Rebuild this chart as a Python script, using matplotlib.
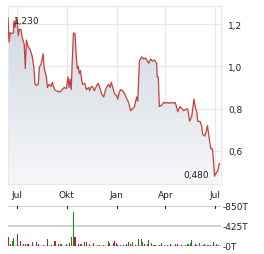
import matplotlib
matplotlib.use("Agg")
import matplotlib.pyplot as plt
import matplotlib.dates as mdates
import numpy as np
import pandas as pd
from matplotlib.colors import LinearSegmentedColormap

price_dates = ["2024-06-14","2024-06-16","2024-06-18","2024-06-22","2024-06-24","2024-06-25","2024-06-27","2024-06-29",
 "2024-07-01","2024-07-03","2024-07-05","2024-07-08","2024-07-10","2024-07-14","2024-07-16","2024-07-18","2024-07-21",
 "2024-07-25","2024-07-29","2024-08-01","2024-08-03","2024-08-05","2024-08-09","2024-08-11","2024-08-14","2024-08-18",
 "2024-08-20","2024-08-24","2024-08-26","2024-08-29","2024-09-02","2024-09-04","2024-09-08","2024-09-11","2024-09-15",
 "2024-09-19","2024-09-22","2024-09-26","2024-09-30","2024-10-03","2024-10-05","2024-10-07","2024-10-09","2024-10-11",
 "2024-10-13","2024-10-16","2024-10-18","2024-10-20","2024-10-22","2024-10-24","2024-10-26","2024-10-28","2024-10-30",
 "2024-11-03","2024-11-06","2024-11-10","2024-11-12","2024-11-14","2024-11-17","2024-11-21","2024-11-25","2024-11-28",
 "2024-12-02","2024-12-04","2024-12-08","2024-12-11","2024-12-13","2024-12-17","2024-12-20","2024-12-22","2024-12-26",
 "2024-12-28","2025-01-01","2025-01-03","2025-01-05","2025-01-08","2025-01-12","2025-01-16","2025-01-20","2025-01-23",
 "2025-01-27","2025-01-31","2025-02-03","2025-02-07","2025-02-09","2025-02-12","2025-02-16","2025-02-20","2025-02-23",
 "2025-02-27","2025-03-01","2025-03-05","2025-03-08","2025-03-12","2025-03-16","2025-03-17","2025-03-19","2025-03-21",
 "2025-03-25","2025-03-29","2025-04-01","2025-04-04","2025-04-08","2025-04-12","2025-04-15","2025-04-19","2025-04-21",
 "2025-04-24","2025-04-28","2025-05-02","2025-05-05","2025-05-11","2025-05-13","2025-05-16","2025-05-20","2025-05-24",
 "2025-05-27","2025-05-29","2025-05-31","2025-06-04","2025-06-07","2025-06-09","2025-06-13","2025-06-16","2025-06-18",
 "2025-06-20","2025-06-24","2025-06-27","2025-06-29","2025-07-01","2025-07-05","2025-07-07","2025-07-10"]
price_values = [1.23,1.115,1.16,1.155,1.16,1.215,1.185,1.225,
 1.215,1.145,1.175,1.175,1.14,1.105,0.99,1.125,1.095,
 1.08,1.045,0.99,0.915,0.91,0.915,0.995,1.01,1.06,
 0.99,0.95,0.90,0.915,0.905,0.925,0.89,0.885,0.88,
 0.88,0.89,0.90,0.895,0.95,0.90,0.94,0.89,1.035,
 1.157,1.157,1.06,0.99,1.0,0.965,0.98,0.94,0.915,
 0.92,0.89,0.90,0.885,0.90,0.905,0.885,0.91,0.92,
 0.89,0.87,0.855,0.885,0.90,0.915,0.90,0.925,0.89,
 0.87,0.86,0.845,0.87,0.89,0.885,0.87,0.845,0.83,
 0.79,0.80,0.81,0.855,0.835,1.025,1.045,1.035,1.04,
 1.025,1.015,1.035,1.025,1.03,1.015,0.95,0.95,0.81,
 0.815,0.83,0.825,0.83,0.825,0.83,0.825,0.83,0.815,
 0.785,0.81,0.80,0.79,0.80,0.79,0.74,0.765,0.845,
 0.80,0.79,0.74,0.74,0.72,0.68,0.67,0.695,0.72,
 0.68,0.61,0.61,0.56,0.48,0.50,0.505,0.54]

vol_dates = ["2024-06-14","2024-06-18","2024-06-22","2024-06-24","2024-06-25","2024-07-01","2024-07-07","2024-07-12",
 "2024-07-16","2024-07-21","2024-07-29","2024-08-05","2024-08-09","2024-08-18","2024-08-26","2024-09-02","2024-09-09",
 "2024-09-15","2024-09-20","2024-09-30","2024-10-05","2024-10-09","2024-10-13","2024-10-16","2024-10-22","2024-10-27",
 "2024-11-02","2024-11-06","2024-11-12","2024-11-19","2024-11-26","2024-12-01","2024-12-08","2024-12-17","2024-12-19",
 "2024-12-26","2024-12-28","2024-12-31","2025-01-03","2025-01-08","2025-01-14","2025-01-19","2025-01-23","2025-01-27",
 "2025-01-31","2025-02-05","2025-02-11","2025-02-16","2025-02-18","2025-02-22","2025-02-27","2025-03-01","2025-03-07",
 "2025-03-11","2025-03-14","2025-03-22","2025-03-25","2025-03-31","2025-04-05","2025-04-11","2025-04-20","2025-04-24",
 "2025-05-01","2025-05-08","2025-05-13","2025-05-17","2025-05-20","2025-05-26","2025-05-29","2025-06-03","2025-06-10",
 "2025-06-12","2025-06-19","2025-06-23","2025-06-29","2025-07-04","2025-07-08"]
vol_values = [190,40,105,150,170,255,105,40,
 40,40,85,85,40,20,150,20,105,
 40,40,40,65,190,720,190,40,40,
 85,85,40,65,20,20,20,105,65,
 65,105,65,20,20,20,40,85,40,
 85,20,150,150,85,40,40,130,65,
 20,20,20,65,20,20,40,40,40,
 20,20,40,65,130,40,20,65,20,
 40,20,20,85,40,20]
vol_up = [0,1,1,1,1,0,0,1,
 1,0,0,1,0,1,0,0,0,
 0,1,0,0,1,1,0,0,1,
 0,0,1,0,1,1,0,1,0,
 0,0,0,0,1,1,0,0,0,
 1,1,0,1,1,0,1,0,1,
 0,1,0,0,1,1,0,0,0,
 0,0,1,1,1,0,0,1,1,
 0,1,0,0,1,0]

month_ticks = ["2024-07-01","2024-10-01","2025-01-01","2025-04-01","2025-07-01"]
month_labels = ["Jul","Okt","Jan","Apr","Jul"]
price_ticks = [0.6,0.8,1.0,1.2]
price_tick_labels = ["0,6","0,8","1,0","1,2"]
vol_ticks = [0,425,850]
vol_tick_labels = ["0T","425T","850T"]
max_label = "1,230"
min_label = "0,480"

W, H = 264, 255
fig = plt.figure(figsize=(W/100, H/100), dpi=100)
plt.rcParams['font.family'] = ['DejaVu Sans']

def box(l, t, r, b):
    return [l/W, 1-b/H, (r-l)/W, (b-t)/H]

ax = fig.add_axes(box(8, 7, 221, 185))
av = fig.add_axes(box(8, 207, 221, 247))

pd_dates = mdates.date2num(pd.to_datetime(price_dates))
pv = np.array(price_values)
xmin = mdates.date2num(pd.Timestamp("2024-06-14"))
xmax = mdates.date2num(pd.Timestamp("2025-07-13"))
ymin, ymax = 0.443, 1.286

ax.set_xlim(xmin, xmax)
ax.set_ylim(ymin, ymax)

poly = ax.fill_between(pd_dates, pv, ymin, color='none', lw=0)
cmap = LinearSegmentedColormap.from_list("g", ["#f6f7f9", "#cdd6de"])
grad = np.linspace(0, 1, 256).reshape(-1, 1)
img = ax.imshow(grad, extent=[xmin, xmax, ymin, ymax], origin='lower', aspect='auto', cmap=cmap, zorder=1)
img.set_clip_path(poly.get_paths()[0], transform=ax.transData)
ax.plot(pd_dates, pv, color="#c4403f", lw=0.9, zorder=3)

tick_nums = mdates.date2num(pd.to_datetime(month_ticks))
ax.set_xticks(tick_nums)
ax.set_xticklabels(month_labels)
ax.set_yticks(price_ticks)
ax.set_yticklabels(price_tick_labels)
ax.yaxis.tick_right()
ax.tick_params(axis='both', length=0, labelsize=6.5, colors="#222222")
ax.tick_params(axis='y', pad=5)
ax.tick_params(axis='x', pad=4)
ax.grid(True, color="#e8e8e8", lw=0.9, zorder=0)
ax.set_axisbelow(True)
for s in ax.spines.values():
    s.set_color("#e8e8e8")
    s.set_linewidth(0.9)

imax = int(np.argmax(pv)); imin = int(np.argmin(pv))
ax.annotate(max_label, (pd_dates[imax], pv[imax]), xytext=(4, -2), textcoords='offset points',
            fontsize=6.5, color="#222222", ha='left', va='center', zorder=5)
ax.annotate(min_label, (pd_dates[imin], pv[imin]), xytext=(-4, 1), textcoords='offset points',
            fontsize=6.5, color="#222222", ha='right', va='center', zorder=5)

vd = mdates.date2num(pd.to_datetime(vol_dates))
colors = ["#1a8a1a" if u else "#b82025" for u in vol_up]
av.set_xlim(xmin, xmax)
av.set_ylim(0, 850)
for yv in vol_ticks:
    av.axhline(yv, color="#c8c8c8", lw=1.2, zorder=0)
av.bar(vd, vol_values, width=2.0, color=colors, zorder=2)
for t in tick_nums:
    av.plot([t, t], [850, 800], color="#222222", lw=0.8, zorder=3)
av.set_xticks([])
av.set_yticks(vol_ticks)
av.set_yticklabels(["-" + s for s in vol_tick_labels])
av.yaxis.tick_right()
av.tick_params(axis='y', length=0, pad=1, labelsize=6.5, colors="#222222")
for s in av.spines.values():
    s.set_visible(False)

fig.savefig("out.png", dpi=100)
